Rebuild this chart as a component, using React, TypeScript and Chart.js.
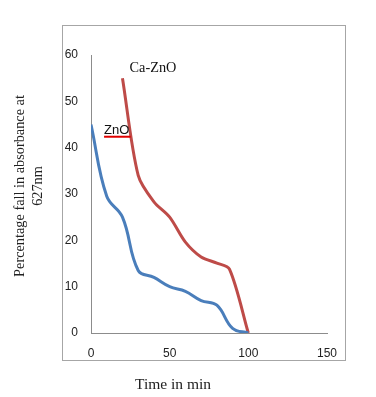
import React, { useEffect, useRef } from "react";
import { Chart, registerables } from "chart.js";

Chart.register(...registerables);

const znoTimes = [0, 10, 20, 30, 40, 50, 60, 70, 80, 90, 100];
const znoValues = [45, 29.5, 25, 13.5, 12, 10, 9, 7, 6, 1, 0];
const caZnoTimes = [20, 30, 40, 50, 60, 70, 80, 88, 100];
const caZnoValues = [55, 34, 28.3, 25, 19.6, 16.4, 15.1, 13.8, 0];
const xTicks = [0, 50, 100, 150];
const yTicks = [0, 10, 20, 30, 40, 50, 60];
const yTitle = ["Percentage fall in absorbance at", "627nm"];
const xTitle = "Time in min";

const BLUE = "#4a7ebb";
const RED = "#be4b48";

const decorPlugin = {
  id: "decor",
  beforeDraw(chart: any) {
    const ctx = chart.ctx;
    ctx.save();
    ctx.fillStyle = "#ffffff";
    ctx.fillRect(0, 0, chart.width, chart.height);
    ctx.strokeStyle = "#a6a6a6";
    ctx.lineWidth = 1;
    ctx.strokeRect(62.5, 25.5, 283, 335);
    ctx.restore();
  },
  afterDraw(chart: any) {
    const ctx = chart.ctx;
    const xs = chart.scales.x;
    const ys = chart.scales.y;
    ctx.save();
    ctx.fillStyle = "#222";
    ctx.font = "14.3px 'Liberation Serif'";
    ctx.textAlign = "center";
    ctx.textBaseline = "middle";
    ctx.save();
    ctx.translate(20, 186);
    ctx.rotate(-Math.PI / 2);
    ctx.fillText(yTitle[0], 0, 0);
    ctx.fillText(yTitle[1], 0, 18);
    ctx.restore();
    ctx.font = "15.5px 'Liberation Serif'";
    ctx.fillText(xTitle, 173, 385);
    ctx.textAlign = "left";
    ctx.textBaseline = "alphabetic";
    ctx.font = "14.3px 'Liberation Serif'";
    ctx.fillStyle = "#111";
    ctx.fillText("Ca-ZnO", xs.getPixelForValue(24.5), ys.getPixelForValue(56.4));
    ctx.font = "13px 'Liberation Sans'";
    const zx = xs.getPixelForValue(8.3);
    const zy = ys.getPixelForValue(42.9);
    ctx.fillText("ZnO", zx, zy);
    ctx.strokeStyle = "#e00000";
    ctx.lineWidth = 2;
    ctx.beginPath();
    ctx.moveTo(zx, zy + 2.5);
    ctx.lineTo(xs.getPixelForValue(25.2), zy + 2.5);
    ctx.stroke();
    ctx.restore();
  },
};

export default function App() {
  const ref = useRef<HTMLCanvasElement | null>(null);
  useEffect(() => {
    if (!ref.current) return;
    const chart = new Chart(ref.current, {
      type: "line",
      data: {
        datasets: [
          {
            label: "ZnO",
            data: znoTimes.map((t, i) => ({ x: t, y: znoValues[i] })),
            borderColor: BLUE,
            borderWidth: 3,
            pointRadius: 0,
            tension: 0.4,
            fill: false,
          },
          {
            label: "Ca-ZnO",
            data: caZnoTimes.map((t, i) => ({ x: t, y: caZnoValues[i] })),
            borderColor: RED,
            borderWidth: 3,
            pointRadius: 0,
            tension: 0.3,
            fill: false,
          },
        ],
      },
      options: {
        animation: false,
        responsive: false,
        maintainAspectRatio: false,
        layout: { padding: { left: 0, right: 49, top: 55, bottom: 0 } },
        plugins: { legend: { display: false }, tooltip: { enabled: false } },
        scales: {
          x: {
            type: "linear",
            min: 0,
            max: 150,
            afterBuildTicks: (s: any) => {
              s.ticks = xTicks.map((v) => ({ value: v }));
            },
            afterFit: (s: any) => {
              s.height = 64;
            },
            grid: { display: false, drawTicks: false },
            border: { color: "#8c8c8c", width: 1 },
            ticks: {
              padding: 13,
              color: "#222",
              font: { family: "'Liberation Sans'", size: 12 },
            },
          },
          y: {
            type: "linear",
            min: 0,
            max: 60,
            afterBuildTicks: (s: any) => {
              s.ticks = yTicks.map((v) => ({ value: v }));
            },
            afterFit: (s: any) => {
              s.width = 91;
            },
            grid: { display: false, drawTicks: false },
            border: { color: "#8c8c8c", width: 1 },
            ticks: {
              padding: 13,
              color: "#222",
              font: { family: "'Liberation Sans'", size: 12 },
            },
          },
        },
      },
      plugins: [decorPlugin],
    });
    return () => chart.destroy();
  }, []);
  return (
    <div style={{ position: "fixed", left: 0, top: 0, width: 376, height: 397, background: "#fff" }}>
      <canvas ref={ref} width={376} height={397} style={{ width: 376, height: 397, display: "block" }} />
    </div>
  );
}
